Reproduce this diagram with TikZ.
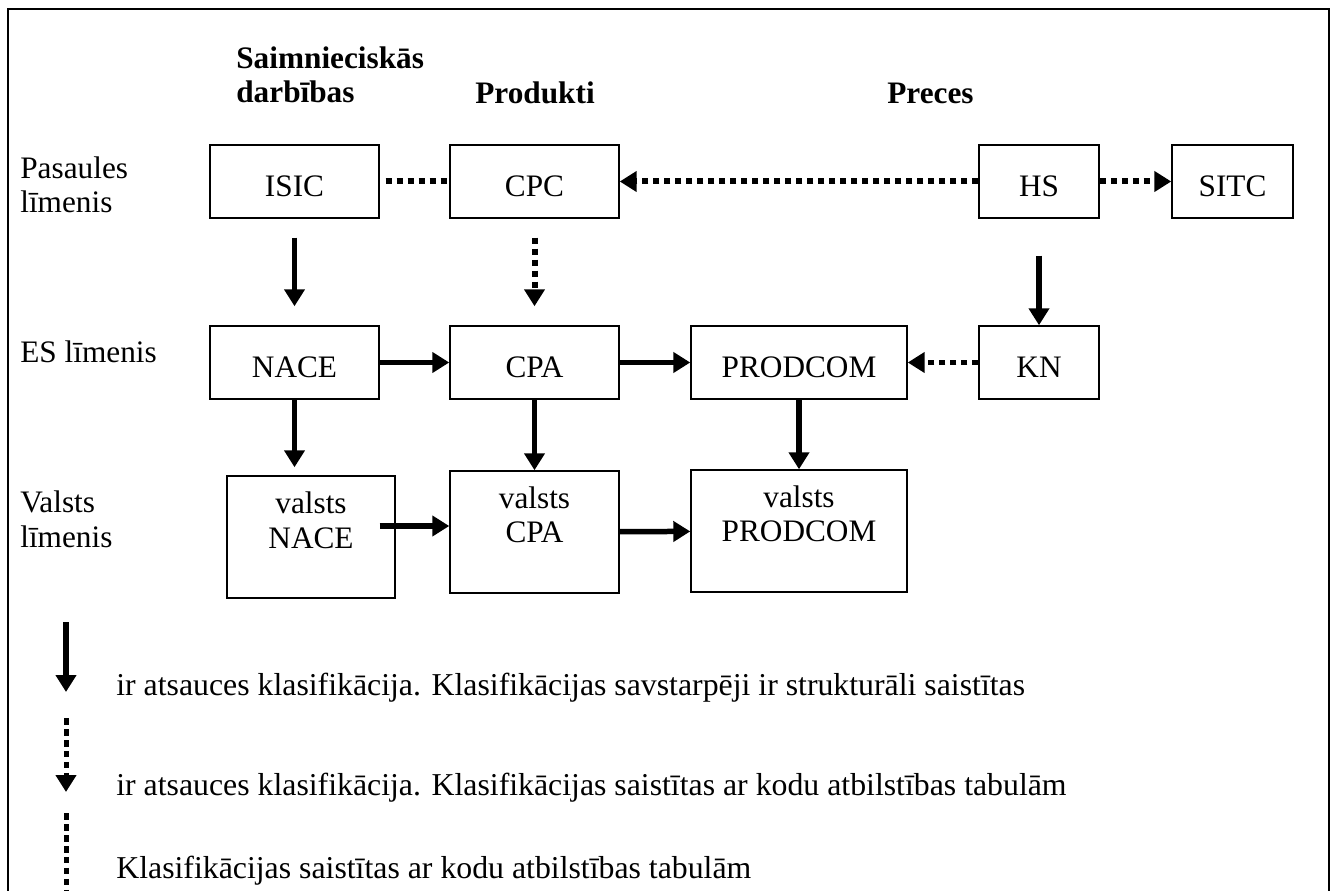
\documentclass[tikz,border=0pt]{standalone}
\usepackage{fontspec}
\setmainfont{Liberation Serif}
\usetikzlibrary{arrows.meta}
\tikzset{
  klas/.style={draw, line width=0.03cm, inner sep=0pt, minimum height=1.46cm, text height=0.6cm, text depth=0cm},
  valstsklas/.style={draw, line width=0.03cm, inner sep=0pt, minimum height=2.44cm, align=center, text height=1.13cm, text depth=0.69cm},
  saite/.style={line width=0.11cm, -{Triangle[width=0.4cm,length=0.34cm]}},
  punkti/.style={line width=0.12cm, dash pattern=on 0.13cm off 0.09cm},
  punktisaite/.style={punkti, -{Triangle[width=0.4cm,length=0.34cm]}},
  teksts/.style={inner sep=0pt, anchor=base west, align=left},
}
\begin{document}
\fontsize{17.8pt}{19.9pt}\selectfont
\begin{tikzpicture}[x=0.02cm, y=-0.02cm]
\useasboundingbox (0,0) rectangle (1334,891);
\draw [line width=0.03cm] (8,891) -- (8,9) -- (1329,9) -- (1329,891);

\node [teksts, font=\bfseries] (darbibas) at (236,103) {Saimnieciskās\\darbības};
\node [teksts, font=\bfseries] (produkti) at (475,104) {Produkti};
\node [teksts, font=\bfseries] (preces) at (887,104) {Preces};
\node [teksts] (pasaule) at (20,213) {Pasaules\\līmenis};
\node [teksts] (es) at (20,363) {ES līmenis};
\node [teksts] (valsts) at (20,547) {Valsts\\līmenis};

\node [klas, minimum width=3.38cm] (isic) at (294.5,181.5) {ISIC};
\node [klas, minimum width=3.38cm] (cpc) at (534.5,181.5) {CPC};
\node [klas, minimum width=2.4cm] (hs) at (1039,181.5) {HS};
\node [klas, minimum width=2.42cm] (sitc) at (1232.5,181.5) {SITC};
\node [klas, minimum width=3.38cm] (nace) at (294.5,362.5) {NACE};
\node [klas, minimum width=3.38cm] (cpa) at (534.5,362.5) {CPA};
\node [klas, minimum width=4.32cm] (prodcom) at (799,362.5) {PRODCOM};
\node [klas, minimum width=2.4cm] (kn) at (1039,362.5) {KN};
\node [valstsklas, minimum width=3.36cm] (vnace) at (311,537) {valsts\\NACE};
\node [valstsklas, minimum width=3.38cm] (vcpa) at (534.5,532) {valsts\\CPA};
\node [valstsklas, minimum width=4.32cm] (vprodcom) at (799,531) {valsts\\PRODCOM};

\draw [punkti, shorten <=0.12cm] (isic) -- (cpc);
\draw [punktisaite] (hs) -- (cpc);
\draw [punktisaite] (hs) -- (sitc);
\draw [saite, shorten <=0.38cm, shorten >=0.38cm] (isic) -- (nace);
\draw [punktisaite, shorten <=0.38cm, shorten >=0.38cm] (cpc) -- (cpa);
\draw [saite, shorten <=0.74cm] (hs) -- (kn);
\draw [saite] (nace) -- (cpa);
\draw [saite] (cpa) -- (prodcom);
\draw [punktisaite] (kn) -- (prodcom);
\draw [saite, shorten >=0.16cm] (nace.south) -- (nace.south |- vnace.north);
\draw [saite] (cpa) -- (vcpa);
\draw [saite] (prodcom) -- (vprodcom);
\coordinate (vnacesaite) at ([shift={(-16,-11)}]vnace.east);
\draw [saite] (vnacesaite) -- (vnacesaite -| vcpa.west);
\draw [saite] (vcpa) -- (vprodcom);

\coordinate (l1a) at (66,622);
\coordinate (l1b) at (66,692);
\coordinate (l2a) at (66,718);
\coordinate (l2b) at (66,792);
\coordinate (l3a) at (66,813);
\coordinate (l3b) at (66,891);
\draw [saite] (l1a) -- (l1b);
\draw [punktisaite, line width=0.1cm] (l2a) -- (l2b);
\draw [punkti, line width=0.1cm] (l3a) -- (l3b);
\begin{scope}[every node/.append style={font=\fontsize{18.1pt}{20pt}\selectfont}]
\node [teksts] (apz1) at (116,695) {ir atsauces klasifikācija. Klasifikācijas savstarpēji ir strukturāli saistītas};
\node [teksts] (apz2) at (116,795) {ir atsauces klasifikācija. Klasifikācijas saistītas ar kodu atbilstības tabulām};
\node [teksts] (apz3) at (116,878) {Klasifikācijas saistītas ar kodu atbilstības tabulām};
\end{scope}
\end{tikzpicture}
\end{document}
